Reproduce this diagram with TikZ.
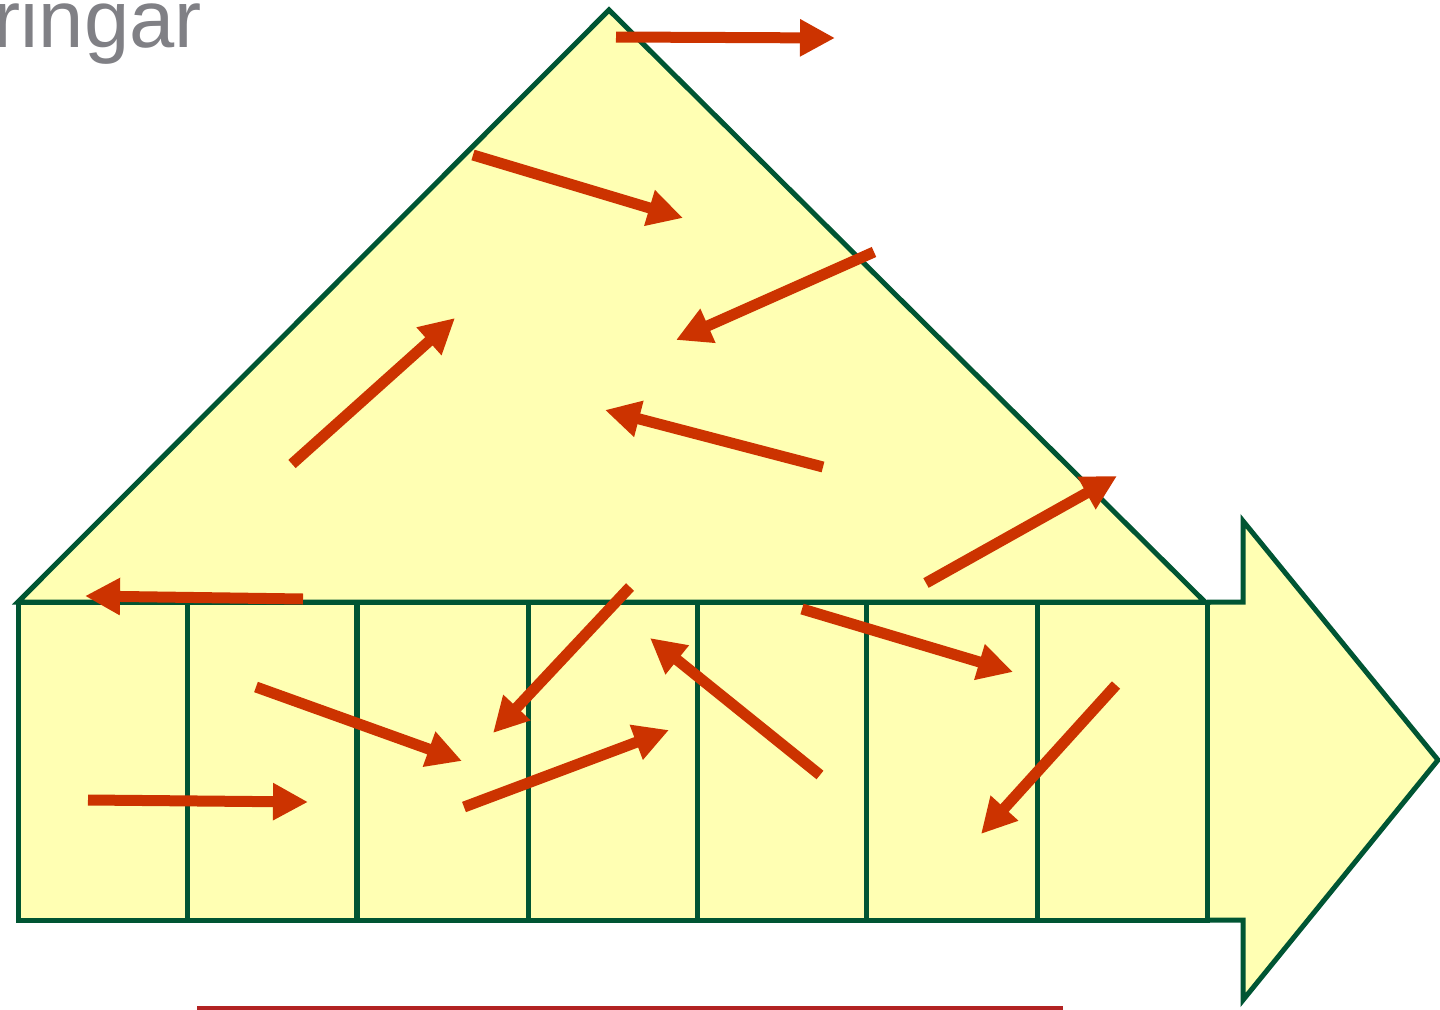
\documentclass[tikz,border=0pt]{standalone}
\usepackage{fontspec}
\setmainfont{Liberation Sans}
\usetikzlibrary{arrows.meta}
\definecolor{fillY}{HTML}{FFFFB3}
\definecolor{edgeG}{HTML}{005533}
\definecolor{arrR}{HTML}{CC3300}
\definecolor{lineR}{HTML}{B22222}
\definecolor{txtG}{HTML}{808085}
\tikzset{
  shapeline/.style={draw=edgeG, line width=3.75pt, fill=fillY, line join=miter},
  divline/.style={draw=edgeG, line width=3.75pt},
  redarrow/.style={draw=arrR, line width=8.25pt, -{Triangle[width=26.25pt,length=26.25pt]}, fill=arrR},
}
\begin{document}
\begin{tikzpicture}[x=0.75pt,y=-0.75pt]
\useasboundingbox (0,0) rectangle (1440,1010);
\begin{scope}
\clip (0,0) rectangle (1440,1010);
% big arrow on the right
\draw[shapeline] (1207,602) -- (1243,602) -- (1243,521) -- (1438,760) -- (1243,1000) -- (1243,920) -- (1207,920);
% house roof
\draw[shapeline] (18,602) -- (609,10) -- (1205,602) -- cycle;
% body
\draw[shapeline] (18,602) rectangle (1207,920);
\foreach \xx in {187,528,697,866,1037} \draw[divline] (\xx,602) -- (\xx,920);
\draw[divline, line width=5pt] (357,602) -- (357,920);
% bottom line
\draw[lineR, line width=3.5pt] (197,1008.5) -- (1063,1008.5);
% title fragment
\node[anchor=base east, inner sep=0pt, text=txtG, font=\fontsize{61}{61}\selectfont] (title) at (202,47) {ringar};
\end{scope}
% arrow end points
\coordinate (a1s) at (616,37);   \coordinate (a1e) at (835,38);
\coordinate (a2s) at (473,155);  \coordinate (a2e) at (683,218);
\coordinate (a3s) at (874,252);  \coordinate (a3e) at (676,340);
\coordinate (a4s) at (292,464);  \coordinate (a4e) at (455,318);
\coordinate (a5s) at (823,467);  \coordinate (a5e) at (605,410);
\coordinate (a6s) at (926,583);  \coordinate (a6e) at (1117,476);
\coordinate (a7s) at (303,599);  \coordinate (a7e) at (85,596);
\coordinate (a8s) at (630,587);  \coordinate (a8e) at (493,733);
\coordinate (a9s) at (256,687);  \coordinate (a9e) at (462,761);
\coordinate (a10s) at (802,609); \coordinate (a10e) at (1013,672);
\coordinate (a11s) at (88,800);  \coordinate (a11e) at (308,802);
\coordinate (a12s) at (464,807); \coordinate (a12e) at (669,730);
\coordinate (a13s) at (820,775); \coordinate (a13e) at (650,638);
\coordinate (a14s) at (1116,685); \coordinate (a14e) at (981,834);
\foreach \i in {1,...,14} \draw[redarrow] (a\i s) -- (a\i e);
\end{tikzpicture}
\end{document}
